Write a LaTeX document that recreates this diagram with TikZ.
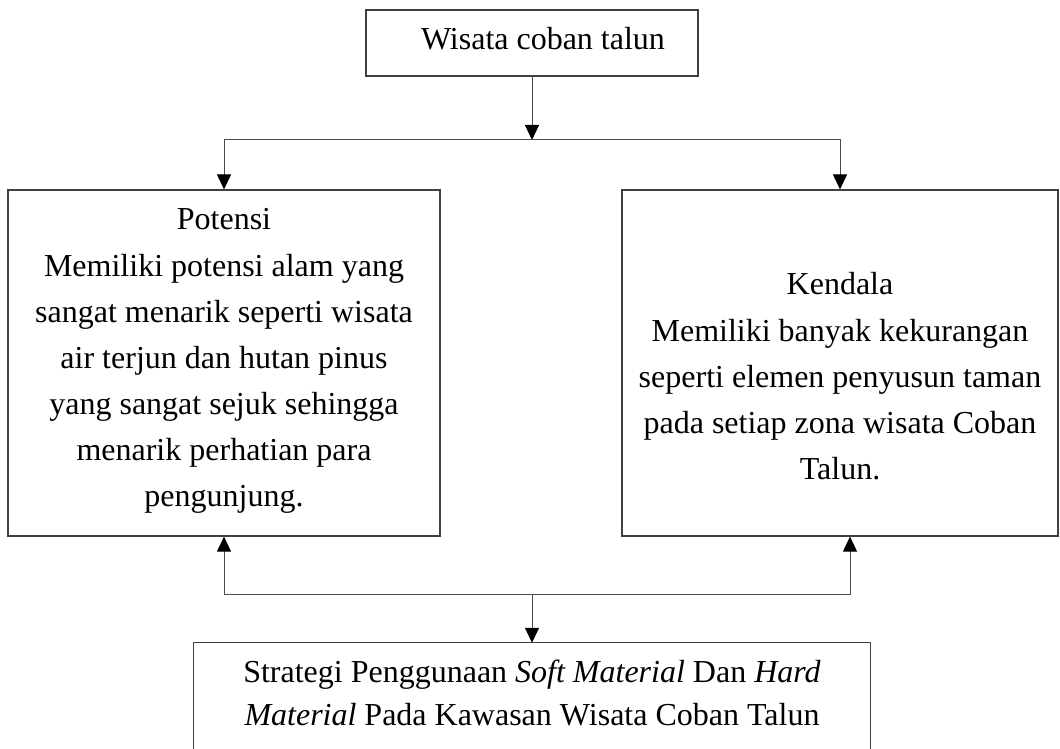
\documentclass[tikz,border=0pt]{standalone}
\usepackage{fontspec}
\setmainfont{Liberation Serif}
\usetikzlibrary{arrows.meta}
\begin{document}
\begin{tikzpicture}[x=1pt,y=-1pt,
  boxline/.style={draw=black!75, line width=1.2pt},
  box/.style={boxline, inner sep=0pt},
  conn/.style={draw=black!70, line width=1pt},
  arr/.style={conn, -{Triangle[width=14pt,length=15pt,color=black,fill=black]}},
  txt/.style={font=\fontsize{32}{46}\selectfont, align=center, anchor=base, inner sep=0pt}]
\useasboundingbox (0,0) rectangle (1060,749);
% boxes
\node[box, minimum width=332pt, minimum height=66pt] (top) at (532,43) {};
\node[box, minimum width=432pt, minimum height=346pt] (pot) at (224,363) {};
\node[box, minimum width=436pt, minimum height=346pt] (ken) at (840,363) {};
\node[inner sep=0pt, minimum width=676pt, minimum height=106pt] (str) at (532,696) {};
\draw[boxline] (str.south west) -- (str.north west) -- (str.north east) -- (str.south east);
% texts (anchor base = baseline of last line)
\node[txt] (t0) at (543,50) {Wisata coban talun};
\node[txt] (t1) at (224,229) {Potensi};
\node[txt] (t2) at (224,506) {Memiliki potensi alam yang\\sangat menarik seperti wisata\\air terjun dan hutan pinus\\yang sangat sejuk sehingga\\menarik perhatian para\\pengunjung.};
\node[txt] (t3) at (840,294) {Kendala};
\node[txt] (t4) at (840,479) {Memiliki banyak kekurangan\\seperti elemen penyusun taman\\pada setiap zona wisata Coban\\Talun.};
\node[txt, font=\fontsize{32}{43}\selectfont] (t5) at (532,725) {Strategi Penggunaan \textit{Soft Material} Dan \textit{Hard}\\\textit{Material} Pada Kawasan Wisata Coban Talun};
% connectors
\coordinate (split) at (532,140);
\coordinate (join) at (532,594);
\draw[arr] (top.south) -- (split);
\draw[arr] (split) -| (pot.north);
\draw[arr] (split) -| (ken.north);
\draw[arr] (join) -- (str.north);
\draw[arr] (join) -| (pot.south);
\draw[arr] (join) -| ([xshift=10pt]ken.south);
\end{tikzpicture}
\end{document}
